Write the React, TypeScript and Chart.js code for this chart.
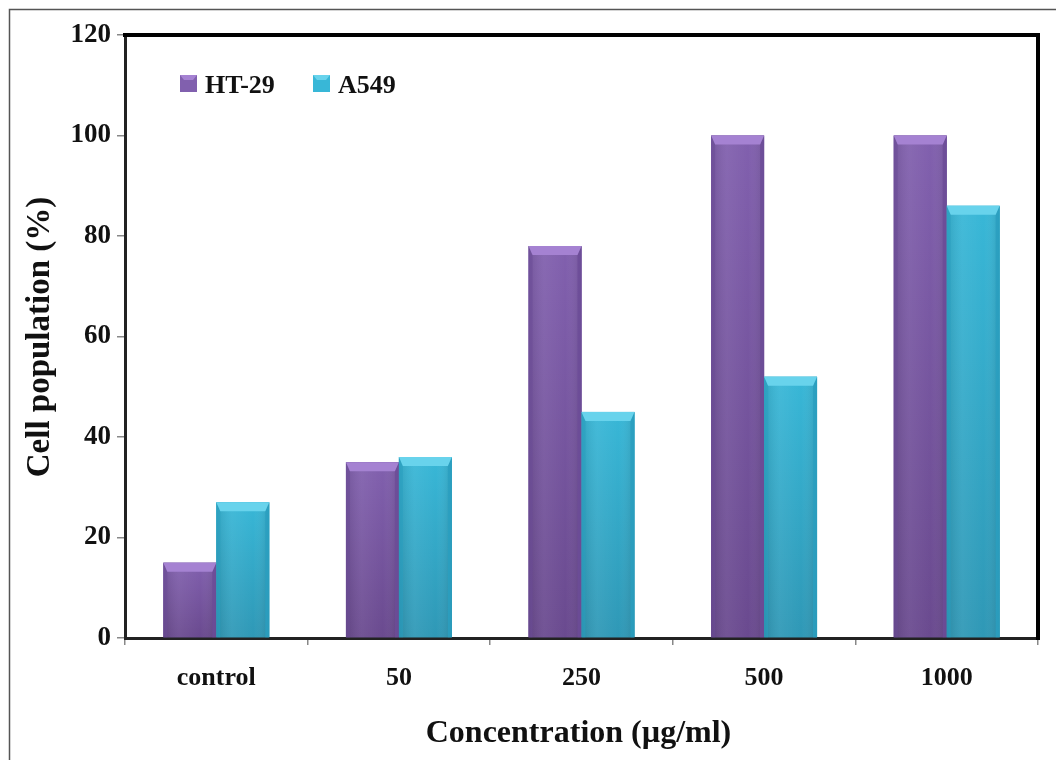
import React, { useEffect, useRef } from "react";
import { Chart, registerables } from "chart.js";

Chart.register(...registerables);

const categories = ["control", "50", "250", "500", "1000"];
const ht29Values = [15, 35, 78, 100, 100];
const a549Values = [27, 36, 45, 52, 86];
const seriesLabels = ["HT-29", "A549"];
const yTicks = [0, 20, 40, 60, 80, 100, 120];
const yTitle = "Cell population (%)";
const xTitle = "Concentration (µg/ml)";

const FONT = "'Liberation Serif', 'Times New Roman', serif";

// palette: base, top bevel, side, bottom
const palettes = [
  { base: "#8160ae", top: "#a582d2", side: "#6c4c98", dark: "#6a4a8f" },
  { base: "#38b7d7", top: "#68d3ec", side: "#2a9fc0", dark: "#2f98b6" },
];

const decorPlugin = {
  id: "decor",
  beforeDraw(chart: any) {
    const ctx = chart.ctx;
    ctx.save();
    ctx.fillStyle = "#ffffff";
    ctx.fillRect(0, 0, chart.width, chart.height);
    ctx.strokeStyle = "#555555";
    ctx.lineWidth = 1.5;
    ctx.beginPath();
    ctx.moveTo(9.5, chart.height);
    ctx.lineTo(9.5, 9.5);
    ctx.lineTo(chart.width, 9.5);
    ctx.stroke();
    ctx.restore();
  },
  afterDatasetsDraw(chart: any) {
    const ctx = chart.ctx;
    ctx.save();
    chart.data.datasets.forEach((ds: any, di: number) => {
      const meta = chart.getDatasetMeta(di);
      const p = palettes[di];
      meta.data.forEach((el: any) => {
        const { x, y, width, base } = el.getProps(["x", "y", "width", "base"], true);
        const l = x - width / 2;
        const r = x + width / 2;
        const t = Math.min(y, base);
        const b = Math.max(y, base);
        const bev = Math.min(9, (b - t) / 2);
        const sw = 4;
        const g = ctx.createLinearGradient(0, t, 0, b);
        g.addColorStop(0, p.base);
        g.addColorStop(1, p.dark);
        ctx.fillStyle = g;
        ctx.fillRect(l, t, width, b - t);
        const hg = ctx.createLinearGradient(l, 0, r, 0);
        hg.addColorStop(0, "rgba(0,0,0,0.10)");
        hg.addColorStop(0.3, "rgba(255,255,255,0.06)");
        hg.addColorStop(0.7, "rgba(255,255,255,0.0)");
        hg.addColorStop(1, "rgba(0,0,0,0.12)");
        ctx.fillStyle = hg;
        ctx.fillRect(l, t, width, b - t);
        ctx.fillStyle = p.side;
        ctx.globalAlpha = 0.55;
        ctx.beginPath();
        ctx.moveTo(l, t);
        ctx.lineTo(l + sw, t + bev);
        ctx.lineTo(l + sw, b);
        ctx.lineTo(l, b);
        ctx.closePath();
        ctx.fill();
        ctx.globalAlpha = 0.85;
        ctx.beginPath();
        ctx.moveTo(r, t);
        ctx.lineTo(r - sw, t + bev);
        ctx.lineTo(r - sw, b);
        ctx.lineTo(r, b);
        ctx.closePath();
        ctx.fill();
        ctx.globalAlpha = 1;
        ctx.fillStyle = p.top;
        ctx.beginPath();
        ctx.moveTo(l, t);
        ctx.lineTo(r, t);
        ctx.lineTo(r - sw, t + bev);
        ctx.lineTo(l + sw, t + bev);
        ctx.closePath();
        ctx.fill();
      });
    });
    ctx.restore();
  },
  afterDraw(chart: any) {
    const ctx = chart.ctx;
    const ca = chart.chartArea;
    ctx.save();
    ctx.strokeStyle = "#000000";
    ctx.lineWidth = 4;
    ctx.lineCap = "square";
    ctx.beginPath();
    ctx.moveTo(ca.left, ca.top);
    ctx.lineTo(ca.right, ca.top);
    ctx.lineTo(ca.right, ca.bottom);
    ctx.stroke();
    ctx.fillStyle = "#111111";
    ctx.font = `bold 32px ${FONT}`;
    ctx.textAlign = "center";
    ctx.textBaseline = "middle";
    ctx.fillText(xTitle, (ca.left + ca.right) / 2 - 3, 734);
    ctx.save();
    ctx.font = `bold 33px ${FONT}`;
    ctx.translate(40, 337);
    ctx.rotate(-Math.PI / 2);
    ctx.fillText(yTitle, 0, 0);
    ctx.restore();
    ctx.font = `bold 26px ${FONT}`;
    ctx.textAlign = "left";
    ctx.textBaseline = "alphabetic";
    const legendX = [180, 313];
    chart.data.datasets.forEach((ds: any, di: number) => {
      const p = palettes[di];
      const bx = legendX[di];
      const by = 75;
      ctx.fillStyle = p.base;
      ctx.fillRect(bx, by, 17, 17);
      ctx.fillStyle = p.top;
      ctx.beginPath();
      ctx.moveTo(bx, by);
      ctx.lineTo(bx + 17, by);
      ctx.lineTo(bx + 13, by + 5);
      ctx.lineTo(bx + 4, by + 5);
      ctx.closePath();
      ctx.fill();
      ctx.fillStyle = "#111111";
      ctx.fillText(ds.label, bx + 25, 93);
    });
    ctx.restore();
  },
};

export default function App() {
  const ref = useRef<HTMLCanvasElement>(null);
  useEffect(() => {
    if (!ref.current) return;
    const chart = new Chart(ref.current, {
      type: "bar",
      data: {
        labels: categories,
        datasets: [
          {
            label: seriesLabels[0],
            data: ht29Values,
            backgroundColor: palettes[0].base,
            categoryPercentage: 0.58,
            barPercentage: 1.0,
          },
          {
            label: seriesLabels[1],
            data: a549Values,
            backgroundColor: palettes[1].base,
            categoryPercentage: 0.58,
            barPercentage: 1.0,
          },
        ],
      },
      options: {
        responsive: false,
        animation: false,
        devicePixelRatio: 1,
        layout: { padding: { top: 35, right: 18, left: 0, bottom: 0 } },
        plugins: {
          legend: { display: false },
          tooltip: { enabled: false },
        },
        scales: {
          x: {
            type: "category",
            grid: {
              display: true,
              drawOnChartArea: false,
              drawTicks: true,
              tickLength: 7,
              color: "#888888",
              lineWidth: 1.5,
              offset: true,
            },
            border: { display: true, color: "#222222", width: 3 },
            ticks: {
              color: "#111111",
              font: { family: FONT, size: 26, weight: "bold" },
              padding: 18,
              maxRotation: 0,
            },
            afterFit(scale: any) {
              scale.height = 122;
            },
          },
          y: {
            min: 0,
            max: 120,
            afterBuildTicks(scale: any) {
              scale.ticks = yTicks.map((v) => ({ value: v }));
            },
            grid: {
              display: true,
              drawOnChartArea: false,
              drawTicks: true,
              tickLength: 8,
              color: "#888888",
              lineWidth: 1.5,
            },
            border: { display: true, color: "#222222", width: 3 },
            ticks: {
              color: "#111111",
              font: { family: FONT, size: 27, weight: "bold" },
              padding: 6,
            },
            afterFit(scale: any) {
              scale.width = 125;
            },
          },
        },
      },
      plugins: [decorPlugin],
    });
    return () => chart.destroy();
  }, []);
  return (
    <div style={{ position: "absolute", left: 0, top: 0, width: 1056, height: 760, background: "#fff" }}>
      <canvas ref={ref} width={1056} height={760} style={{ display: "block" }} />
    </div>
  );
}
